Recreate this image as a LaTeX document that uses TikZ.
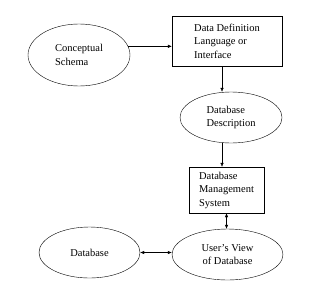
\documentclass[tikz,border=0pt]{standalone}
\usepackage{fontspec}
\setmainfont{Liberation Serif}
\usetikzlibrary{shapes.geometric,arrows.meta}

\begin{document}
\begin{tikzpicture}[x=1pt, y=1pt,
    arr/.style={-{Latex[length=4pt,width=3.5pt]}, thin},
    darr/.style={{Latex[length=4pt,width=3.5pt]}-{Latex[length=4pt,width=3.5pt]}, thin},
    oval/.style={draw, ellipse, inner sep=0pt, font=\fontsize{10.5}{13.5}\selectfont},
    box/.style={draw, rectangle, inner sep=0pt, font=\fontsize{10.5}{13.5}\selectfont}]
    \useasboundingbox (0,0) rectangle (320,-292);

    \node[oval, minimum width=102, minimum height=62, align=left] (concept) at (79,-55) {Conceptual\\Schema};
    \node[box, minimum width=110, minimum height=50, align=left] (ddl) at (227,-41) {Data Definition\\Language or\\Interface};
    \node[oval, minimum width=102, minimum height=51, align=left] (desc) at (231,-117.5) {Database\\Description};
    \node[box, minimum width=75, minimum height=46, align=left] (dbms) at (226.5,-190) {Database\\Management\\System};
    \node[oval, minimum width=111, minimum height=51, align=center] (user) at (227.5,-254.5) {User's View\\of Database};
    \node[oval, minimum width=101, minimum height=51] (db) at (89.5,-252.5) {Database};

    \coordinate (axis) at (222,0);

    \draw[arr] (concept.10) -- (concept.10 -| ddl.west);
    \draw[arr] (axis |- ddl.south) -- (axis |- desc.north);
    \draw[arr] (axis |- desc.south) -- (axis |- dbms.north);
    \draw[darr] (dbms.south) -- (dbms.south |- user.north);
    \draw[darr] (db.east) -- (db.east -| user.west);
\end{tikzpicture}
\end{document}
